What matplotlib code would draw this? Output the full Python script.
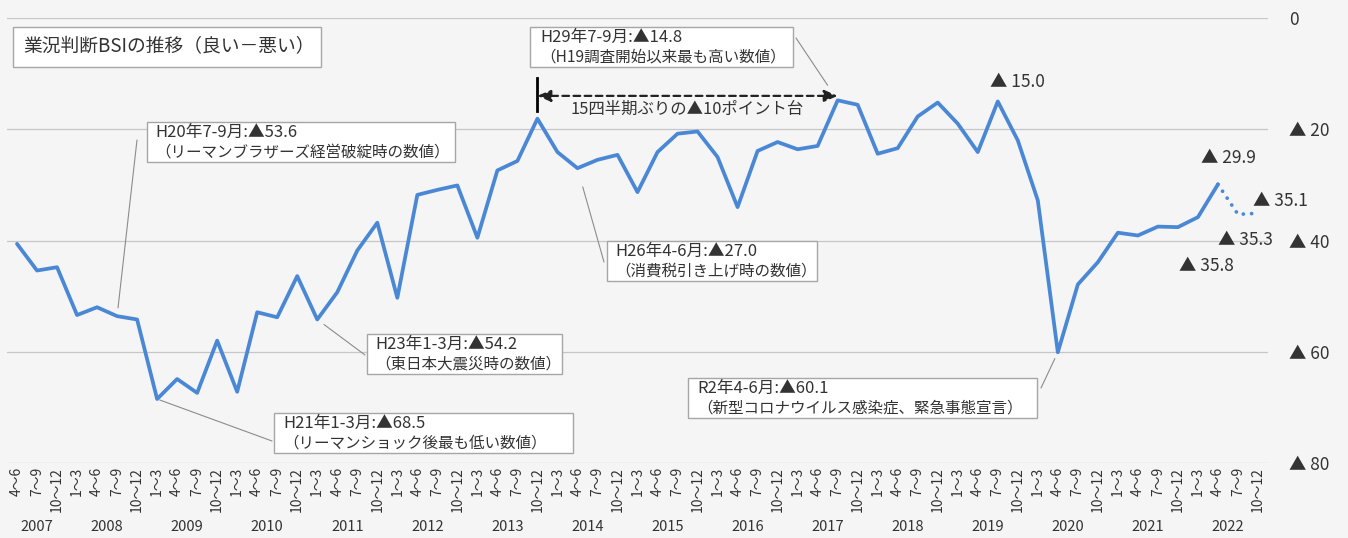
import matplotlib
matplotlib.use('Agg')
import matplotlib.pyplot as plt
from matplotlib.patches import Rectangle
import matplotlib.transforms as mtransforms

plt.rcParams['font.family'] = ['Noto Sans CJK JP', 'DejaVu Sans']

# ---------------- data ----------------
years = list(range(2007, 2023))
quarter_names = ['1～3', '4～6', '7～9', '10～12']
first_year_quarters = ['4～6', '7～9', '10～12']

# BSI (good - bad), shown as negative values with ▲ ; stored as magnitudes
bsi_actual = [40.6, 45.4, 44.8,                      # 2007
              53.4, 52.0, 53.6, 54.2,                # 2008
              68.5, 64.9, 67.4, 58.0,                # 2009
              67.2, 52.9, 53.8, 46.4,                # 2010
              54.2, 49.3, 41.8, 36.8,                # 2011
              50.3, 31.8, 30.9, 30.1,                # 2012
              39.5, 27.4, 25.7, 18.1,                # 2013
              24.1, 27.0, 25.5, 24.6,                # 2014
              31.3, 24.1, 20.8, 20.4,                # 2015
              25.0, 34.0, 23.9, 22.3,                # 2016
              23.6, 23.0, 14.8, 15.6,                # 2017
              24.4, 23.4, 17.7, 15.2,                # 2018
              19.0, 24.1, 15.0, 22.0,                # 2019
              32.8, 60.1, 47.9, 43.9,                # 2020
              38.6, 39.1, 37.5, 37.6,                # 2021
              35.8, 29.9]                            # 2022 (actual)
bsi_forecast = [29.9, 35.3, 35.1]                    # 2022 4-6 -> 10-12 (forecast)

y_ticks = [0, 20, 40, 60, 80]
y_tick_labels = ['0', '▲ 20', '▲ 40', '▲ 60', '▲ 80']

title_text = '業況判断BSIの推移（良い－悪い）'

# ------------- categories -------------
cat_labels = list(first_year_quarters)
year_of_cat = [2007] * len(first_year_quarters)
for y in years[1:]:
    cat_labels += quarter_names
    year_of_cat += [y] * 4
n_cat = len(cat_labels)
x_actual = list(range(len(bsi_actual)))
x_fore = list(range(len(bsi_actual) - 1, len(bsi_actual) - 1 + len(bsi_forecast)))

# ------------- figure -----------------
W, H = 1348, 538
BG = '#f5f5f5'
BLUE = '#4a88d6'
TXT = '#333333'
fig = plt.figure(figsize=(W / 100, H / 100), dpi=100, facecolor=BG)
L, R, T, B = 7, 1268, 18, 463
ax = fig.add_axes([L / W, 1 - B / H, (R - L) / W, (B - T) / H])
ax.set_facecolor(BG)


def px(x, y):
    return (x / W, 1 - y / H)


ax.plot(x_actual, bsi_actual, color=BLUE, lw=2.7, solid_joinstyle='round',
        solid_capstyle='round', zorder=3)
ax.plot(x_fore, bsi_forecast, color=BLUE, lw=2.7, linestyle=(0, (0.01, 2.2)),
        dash_capstyle='round', zorder=3)

ax.set_xlim(-0.5, n_cat - 0.5)
ax.set_ylim(80, 0)
ax.set_yticks(y_ticks)
ax.set_yticklabels(y_tick_labels, fontsize=12.5, color=TXT)
ax.yaxis.tick_right()
ax.tick_params(axis='y', length=0, pad=15)
ax.set_xticks(range(n_cat))
ax.set_xticklabels(cat_labels, rotation=90, fontsize=10, color=TXT)
ax.tick_params(axis='x', length=0, pad=3)
for s in ax.spines.values():
    s.set_visible(False)
ax.grid(axis='y', color='#c6c6c6', lw=0.9)
ax.grid(axis='x', visible=False)
ax.set_axisbelow(True)

# year labels
trans = mtransforms.blended_transform_factory(ax.transData, ax.transAxes)
for y in years:
    idx = [i for i, yy in enumerate(year_of_cat) if yy == y]
    ax.text(sum(idx) / len(idx), (B - 527) / (B - T), str(y), transform=trans,
            ha='center', va='center', fontsize=10.5, color=TXT)

# ------------- annotation boxes -------------
def box(x0, y0, x1, y1, lines, tx):
    fig.add_artist(Rectangle(px(x0, y1), (x1 - x0) / W, (y1 - y0) / H,
                             transform=fig.transFigure, facecolor='white',
                             edgecolor='#a6a6a6', lw=1.0, zorder=5))
    if len(lines) == 1:
        fig.text(*px(tx, (y0 + y1) / 2), lines[0], fontsize=13.5, color=TXT,
                 ha='left', va='center', zorder=6)
    else:
        fig.text(*px(tx, y0 + 10), lines[0], fontsize=12, color=TXT,
                 ha='left', va='center', zorder=6)
        fig.text(*px(tx, y0 + 30), lines[1], fontsize=11.2, color=TXT,
                 ha='left', va='center', zorder=6)


def leader(idx, x_from, y_from, shrink):
    ax.annotate('', xy=(idx, bsi_actual[idx]), xycoords='data',
                xytext=px(x_from, y_from), textcoords='figure fraction',
                arrowprops=dict(arrowstyle='-', color='#8c8c8c', lw=0.8,
                                shrinkA=0, shrinkB=shrink), zorder=4)


box(13, 27, 321, 67, [title_text], 23)
box(530, 27, 793, 67, ['H29年7-9月:▲14.8', '（H19調査開始以来最も高い数値）'], 540)
box(147, 122, 455, 162, ['H20年7-9月:▲53.6', '（リーマンブラザーズ経営破綻時の数値）'], 155)
box(607, 241, 817, 281, ['H26年4-6月:▲27.0', '（消費税引き上げ時の数値）'], 615)
box(367, 334, 562, 374, ['H23年1-3月:▲54.2', '（東日本大震災時の数値）'], 375)
box(688, 378, 1037, 418, ['R2年4-6月:▲60.1', '（新型コロナウイルス感染症、緊急事態宣言）'], 697)
box(274, 413, 573, 453, ['H21年1-3月:▲68.5', '（リーマンショック後最も低い数値）'], 283)

leader(5, 137, 140, 6)
leader(7, 272, 441, 2)
leader(15, 365, 355, 6)
leader(28, 604, 262, 14)
leader(41, 796, 38, 13)
leader(52, 1041, 388, 5)

# ------------- 15-quarter arrow -------------
i_start = 26
i_end = 41
ax.plot([i_start, i_start], [10.8, 16.8], color='black', lw=2.0, zorder=4)
ax.annotate('', xy=(i_end, 14.0), xytext=(i_start, 14.0), xycoords='data',
            arrowprops=dict(arrowstyle='<|-|>,head_length=0.8,head_width=0.35',
                            color='#222222', lw=1.6, linestyle=(0, (3, 2)),
                            shrinkA=0, shrinkB=0), zorder=4)
ax.text((i_start + i_end) / 2, 16.5, '15四半期ぶりの▲10ポイント台', ha='center',
        va='center', fontsize=11.8, color=TXT)

# ------------- value labels -------------
def vlabel(x, y, s):
    fig.text(*px(x, y), s, fontsize=12.5, color=TXT, ha='left', va='center')


vlabel(990, 82, '▲ ' + f'{bsi_actual[49]:.1f}')
vlabel(1201, 158, '▲ ' + f'{bsi_actual[60]:.1f}')
vlabel(1179, 266, '▲ ' + f'{bsi_actual[59]:.1f}')
vlabel(1218, 240, '▲ ' + f'{bsi_forecast[1]:.1f}')
vlabel(1253, 201, '▲ ' + f'{bsi_forecast[2]:.1f}')

fig.savefig('out.png', dpi=100, facecolor=BG)
